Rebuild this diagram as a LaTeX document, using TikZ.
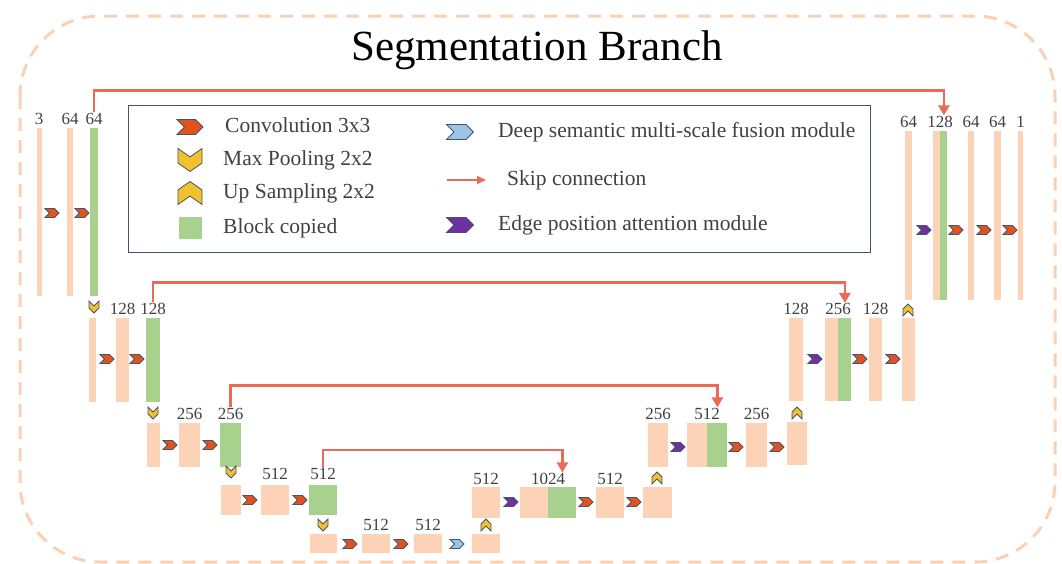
\documentclass[tikz,border=0pt]{standalone}
\usepackage{fontspec}
\setmainfont{Liberation Serif}
\usetikzlibrary{shapes.symbols, arrows.meta, positioning}

\definecolor{featpeach}{HTML}{FDD3B8}
\definecolor{copygreen}{HTML}{A9D18E}
\definecolor{convred}{HTML}{E2531C}
\definecolor{poolyellow}{HTML}{F2C12E}
\definecolor{fuseblue}{HTML}{9DC3E6}
\definecolor{edgepurple}{HTML}{7030A0}
\definecolor{iconline}{HTML}{44546A}
\definecolor{skipred}{HTML}{EA6B58}
\definecolor{framepeach}{HTML}{FBD0B4}
\definecolor{labgray}{HTML}{404040}

\begin{document}
\begin{tikzpicture}[
    x=1pt, y=-1pt,
    fmap/.style={rectangle, fill=featpeach, inner sep=0pt},
    copied/.style={rectangle, fill=copygreen, inner sep=0pt},
    chev/.style={signal, signal to=east, signal from=west, draw=iconline, line width=0.8pt, inner sep=0pt, signal pointer angle=90},
    conv/.style={chev, fill=convred, minimum width=14pt, minimum height=9pt},
    fuse/.style={chev, fill=fuseblue, minimum width=14pt, minimum height=9pt},
    edgeatt/.style={chev, fill=edgepurple, minimum width=14pt, minimum height=9pt},
    pool/.style={chev, fill=poolyellow, minimum width=12pt, minimum height=10pt, rotate=-90},
    upsamp/.style={chev, fill=poolyellow, minimum width=12pt, minimum height=10pt, rotate=90},
    lbl/.style={font=\fontsize{17}{17}\selectfont, text=labgray, inner sep=0.5pt},
    legtext/.style={font=\fontsize{21.5}{22}\selectfont, text=labgray, inner sep=0pt, anchor=west, text height=2.9ex, text depth=0.5ex},
    skip/.style={draw=skipred, line width=2.5pt, -{Triangle[width=11pt, length=10pt]}},
    frame/.style={draw=framepeach, line width=3pt, dash pattern=on 13pt off 9pt, rounded corners=80pt}
]
    \useasboundingbox (0,0) rectangle (1062,563);

    % Frame and title
    \draw[frame] (20,16) rectangle (1055,562);
    \node[font=\fontsize{43}{43}\selectfont] (ttl) at (537,50) {Segmentation Branch};

    % Legend
    \node[draw=iconline, line width=1pt, minimum width=742pt, minimum height=147pt, inner sep=0pt] (legend) at (499,178.5) {};
    \node[chev, fill=convred, minimum width=26pt, minimum height=15pt] (lconv) at (190,127) {};
    \node[chev, fill=poolyellow, minimum width=23pt, minimum height=24pt, signal pointer angle=110, rotate=-90] (lpool) at (190,160) {};
    \node[chev, fill=poolyellow, minimum width=23pt, minimum height=24pt, signal pointer angle=110, rotate=90] (lup) at (190,193) {};
    \node[copied, minimum width=23pt, minimum height=22pt] (lcopy) at (190,228) {};
    \node[legtext] (tconv) at (225,127) {Convolution 3x3};
    \node[legtext] (tpool) at (223,160) {Max Pooling 2x2};
    \node[legtext] (tup) at (223,193) {Up Sampling 2x2};
    \node[legtext] (tcopy) at (223,228) {Block copied};

    \node[chev, fill=fuseblue, minimum width=27pt, minimum height=15pt] (lfuse) at (460,132) {};
    \coordinate (skipa) at (447,180);
    \coordinate (skipb) at (486,180);
    \draw[draw=skipred, line width=1.5pt, -{Triangle[width=8pt, length=9pt]}] (skipa) -- (skipb);
    \node[chev, fill=edgepurple, minimum width=27pt, minimum height=15pt] (ledge) at (460,225) {};
    \node[legtext] (tfuse) at (498,132) {Deep semantic multi-scale fusion module};
    \node[legtext] (tskip) at (507,180) {Skip connection};
    \node[legtext] (tedge) at (498,225) {Edge position attention module};

    % Encoder level 1
    \node[fmap, minimum width=5pt, minimum height=168pt] (e1a) at (39,212) {};
    \node[fmap, minimum width=6pt, minimum height=168pt] (e1b) at (70,212) {};
    \node[copied, minimum width=8pt, minimum height=168pt] (e1c) at (94,212) {};
    \node[lbl, above=2.5pt of e1a] (le1a) {3};
    \node[lbl, above=2.5pt of e1b] (le1b) {64};
    \node[lbl, above=2.5pt of e1c] (le1c) {64};
    \node[conv] (c1a) at (52,213) {};
    \node[conv] (c1b) at (82,213) {};
    \node[pool] (p1) at (94,307) {};

    % Encoder level 2
    \node[fmap, minimum width=7pt, minimum height=84pt] (e2a) at (92.5,360) {};
    \node[fmap, minimum width=13pt, minimum height=84pt] (e2b) at (122.5,360) {};
    \node[copied, minimum width=14pt, minimum height=84pt] (e2c) at (153,360) {};
    \node[lbl, above=2.5pt of e2b] (le2b) {128};
    \node[lbl, above=2.5pt of e2c] (le2c) {128};
    \node[conv] (c2a) at (107,359) {};
    \node[conv] (c2b) at (137,359) {};
    \node[pool] (p2) at (153,413) {};

    % Encoder level 3
    \node[fmap, minimum width=13pt, minimum height=44pt] (e3a) at (153.5,445) {};
    \node[fmap, minimum width=21pt, minimum height=44pt] (e3b) at (189.5,445) {};
    \node[copied, minimum width=21pt, minimum height=44pt] (e3c) at (230.5,445) {};
    \node[lbl, above=2.5pt of e3b] (le3b) {256};
    \node[lbl, above=2.5pt of e3c] (le3c) {256};
    \node[conv] (c3a) at (170,445) {};
    \node[conv] (c3b) at (210,445) {};
    \node[pool] (p3) at (231,472) {};

    % Encoder level 4
    \node[fmap, minimum width=20pt, minimum height=30pt] (e4a) at (231,500) {};
    \node[fmap, minimum width=28pt, minimum height=30pt] (e4b) at (275,500) {};
    \node[copied, minimum width=28pt, minimum height=30pt] (e4c) at (323,500) {};
    \node[lbl, above=4pt of e4b] (le4b) {512};
    \node[lbl, above=4pt of e4c] (le4c) {512};
    \node[conv] (c4a) at (250,500) {};
    \node[conv] (c4b) at (300,500) {};
    \node[pool] (p4) at (323,525) {};

    % Bottleneck
    \node[fmap, minimum width=27pt, minimum height=19pt] (b5a) at (323.5,543.5) {};
    \node[fmap, minimum width=28pt, minimum height=19pt] (b5b) at (376,543.5) {};
    \node[fmap, minimum width=28pt, minimum height=19pt] (b5c) at (428,543.5) {};
    \node[fmap, minimum width=28pt, minimum height=19pt] (b5d) at (486,543.5) {};
    \node[lbl, above=2.5pt of b5b] (lb5b) {512};
    \node[lbl, above=2.5pt of b5c] (lb5c) {512};
    \node[conv] (c5a) at (350,544) {};
    \node[conv] (c5b) at (401,544) {};
    \node[fuse] (f5) at (457,544) {};
    \node[upsamp] (u5) at (486,525) {};

    % Decoder level 4
    \node[fmap, minimum width=28pt, minimum height=31pt] (d4a) at (486,502.5) {};
    \node[fmap, minimum width=28pt, minimum height=31pt] (d4b) at (534,502.5) {};
    \node[copied, minimum width=28pt, minimum height=31pt, right=0pt of d4b] (d4c) {};
    \node[fmap, minimum width=28pt, minimum height=31pt] (d4d) at (610,502.5) {};
    \node[fmap, minimum width=29pt, minimum height=31pt] (d4e) at (657.5,502.5) {};
    \node[lbl, above=1.5pt of d4a] (ld4a) {512};
    \node[lbl, above=1.5pt of d4b.north east] (ld4c) {1024};
    \node[lbl, above=1.5pt of d4d] (ld4d) {512};
    \node[edgeatt] (a4) at (511,502) {};
    \node[conv] (c6a) at (586,502) {};
    \node[conv] (c6b) at (634,502) {};
    \node[upsamp] (u4) at (657,478) {};

    % Decoder level 3
    \node[fmap, minimum width=20pt, minimum height=44pt] (d3a) at (658,445) {};
    \node[fmap, minimum width=20pt, minimum height=44pt] (d3b) at (697,445) {};
    \node[copied, minimum width=20pt, minimum height=44pt, right=0pt of d3b] (d3c) {};
    \node[fmap, minimum width=21pt, minimum height=44pt] (d3d) at (756.5,445) {};
    \node[fmap, minimum width=20pt, minimum height=43pt] (d3e) at (797,443.5) {};
    \node[lbl, above=2.5pt of d3a] (ld3a) {256};
    \node[lbl, above=2.5pt of d3b.north east] (ld3c) {512};
    \node[lbl, above=2.5pt of d3d] (ld3d) {256};
    \node[edgeatt] (a3) at (678,447) {};
    \node[conv] (c7a) at (736,447) {};
    \node[conv] (c7b) at (777,447) {};
    \node[upsamp] (u3) at (797,413) {};

    % Decoder level 2
    \node[fmap, minimum width=14pt, minimum height=83pt] (d2a) at (796,359.5) {};
    \node[fmap, minimum width=13pt, minimum height=83pt] (d2b) at (831.5,359.5) {};
    \node[copied, minimum width=13pt, minimum height=83pt, right=0pt of d2b] (d2c) {};
    \node[fmap, minimum width=13pt, minimum height=83pt] (d2d) at (875.5,359.5) {};
    \node[fmap, minimum width=13pt, minimum height=83pt] (d2e) at (908.5,359.5) {};
    \node[lbl, above=2pt of d2a] (ld2a) {128};
    \node[lbl, above=2pt of d2b.north east] (ld2c) {256};
    \node[lbl, above=2pt of d2d] (ld2d) {128};
    \node[edgeatt] (a2) at (815,359) {};
    \node[conv] (c8a) at (860,359) {};
    \node[conv] (c8b) at (893,359) {};
    \node[upsamp] (u2) at (908,310) {};

    % Decoder level 1
    \node[fmap, minimum width=7pt, minimum height=169pt] (d1a) at (908.5,215.5) {};
    \node[fmap, minimum width=7pt, minimum height=169pt] (d1b) at (936.5,215.5) {};
    \node[copied, minimum width=7pt, minimum height=169pt, right=0pt of d1b] (d1c) {};
    \node[fmap, minimum width=6pt, minimum height=169pt] (d1d) at (971,215.5) {};
    \node[fmap, minimum width=7pt, minimum height=169pt] (d1e) at (997.5,215.5) {};
    \node[fmap, minimum width=5pt, minimum height=169pt] (d1f) at (1020.5,215.5) {};
    \node[lbl, above=2.5pt of d1a] (ld1a) {64};
    \node[lbl, above=2.5pt of d1b.north east] (ld1c) {128};
    \node[lbl, above=2.5pt of d1d] (ld1d) {64};
    \node[lbl, above=2.5pt of d1e] (ld1e) {64};
    \node[lbl, above=2.5pt of d1f] (ld1f) {1};
    \node[edgeatt] (a1) at (924,230) {};
    \node[conv] (c9a) at (956,230) {};
    \node[conv] (c9b) at (984,230) {};
    \node[conv] (c9c) at (1010,230) {};

    % Skip connections
    \draw[skip] (le1c.north -| e1c) -- ++(0,-22) -| (ld1c.north -| d1c);
    \draw[skip] (le2c.north -| e2c) -- ++(0,-20) -| (ld2c.north -| d2c);
    \draw[skip] (le3c.north -| e3c) -- ++(0,-22) -| (ld3c.north -| d3c);
    \draw[skip] (le4c.north -| e4c) -- ++(0,-18) -| (ld4c.north -| d4c);

\end{tikzpicture}
\end{document}
